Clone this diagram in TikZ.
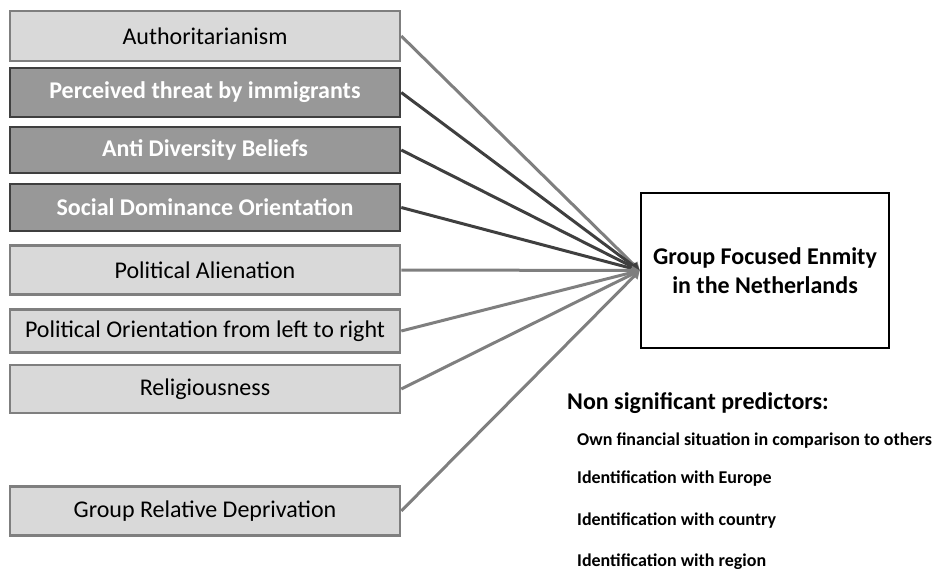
\documentclass[tikz,border=0pt]{standalone}
\usepackage{fontspec}
\setmainfont{Carlito}
\usetikzlibrary{arrows.meta}
\definecolor{lightfill}{HTML}{D9D9D9}
\definecolor{lightedge}{HTML}{7F7F7F}
\definecolor{darkfill}{HTML}{989898}
\definecolor{darkedge}{HTML}{3F3F3F}
\tikzset{
  lightbox/.style={draw=lightedge, fill=lightfill, line width=2.5pt, minimum width=390pt, inner sep=0pt, font=\fontsize{24}{27}\selectfont, text=black},
  darkbox/.style={draw=darkedge, fill=darkfill, line width=2.5pt, minimum width=390pt, inner sep=0pt, font=\bfseries\fontsize{24}{27}\selectfont, text=white},
  lightarrow/.style={draw=lightedge, line width=3pt, -{Triangle[length=8pt,width=9pt]}},
  darkarrow/.style={draw=darkedge, line width=3pt, -{Triangle[length=8pt,width=9pt]}},
  notetext/.style={anchor=west, inner sep=0pt, font=\bfseries\fontsize{18}{20}\selectfont}
}
\begin{document}
\begin{tikzpicture}[x=1pt,y=-1pt]
\useasboundingbox (0,0) rectangle (936,575);
\node[lightbox, minimum height=50pt] (a) at (205,36) {Authoritarianism};
\node[darkbox, minimum height=49pt] (b) at (205,92.5) {Perceived threat by immigrants};
\node[darkbox, minimum height=46pt] (c) at (205,150) {Anti Diversity Beliefs};
\node[darkbox, minimum height=47pt] (d) at (205,207.5) {Social Dominance Orientation};
\node[lightbox, minimum height=49pt] (e) at (205,270) {Political Alienation};
\node[lightbox, minimum height=43pt] (f) at (205,331) {Political Orientation from left to right};
\node[lightbox, minimum height=48pt] (g) at (205,389) {Religiousness};
\node[lightbox, minimum height=49pt] (h) at (205,511) {Group Relative Deprivation};
\node[draw=black, line width=2.5pt, minimum width=248pt, minimum height=155pt, inner sep=0pt, align=center, font=\bfseries\fontsize{24}{29}\selectfont] (t) at (765,270.5) {Group Focused Enmity\\in the Netherlands};
\coordinate (tip) at (t.west);
\draw[lightarrow] (a.east) -- (tip);
\draw[darkarrow] (b.east) -- (tip);
\draw[darkarrow] (c.east) -- (tip);
\draw[darkarrow] (d.east) -- (tip);
\draw[lightarrow] (e.east) -- (tip);
\draw[lightarrow] (f.east) -- (tip);
\draw[lightarrow] (g.east) -- (tip);
\draw[lightarrow] (h.east) -- (tip);
\node[notetext, font=\bfseries\fontsize{24}{26}\selectfont] (n0) at (567,403) {Non significant predictors:};
\node[notetext] (n1) at (577,441) {Own financial situation in comparison to others};
\node[notetext] (n2) at (577,479) {Identification with Europe};
\node[notetext] (n3) at (577,521) {Identification with country};
\node[notetext] (n4) at (577,562) {Identification with region};
\end{tikzpicture}
\end{document}
